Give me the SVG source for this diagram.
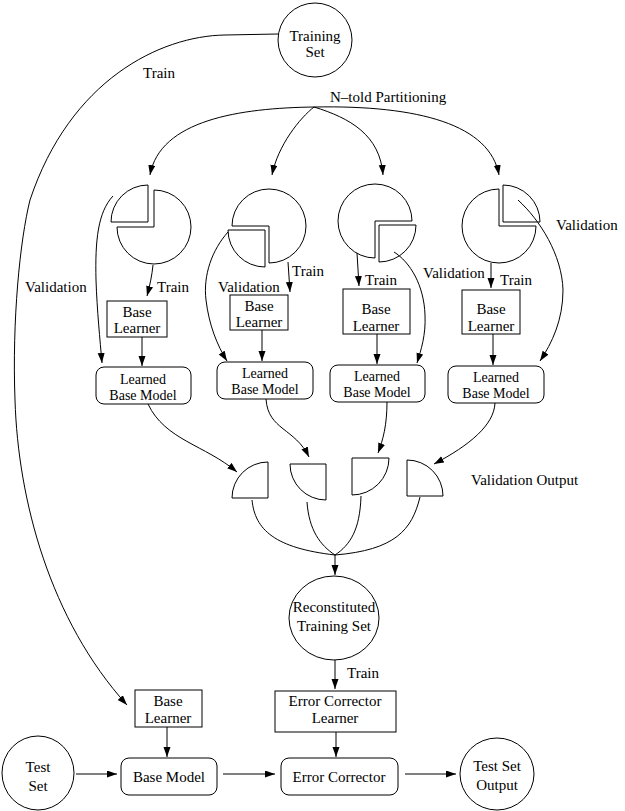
<svg xmlns="http://www.w3.org/2000/svg" width="625" height="811" viewBox="0 0 625 811">
<style>
.s{fill:none;stroke:#000;stroke-width:1}
.n{fill:#fff;stroke:#000;stroke-width:1}
.c{fill:none;stroke:#000;stroke-width:1;marker-end:url(#ah)}
.p{fill:none;stroke:#000;stroke-width:1}
text{font-family:"Liberation Serif","Times New Roman",serif;font-size:15px;fill:#000}
.m{text-anchor:middle}
.t{font-size:14px}
</style>
<defs>
<marker id="ah" markerUnits="userSpaceOnUse" markerWidth="11" markerHeight="8" refX="10" refY="3.5" orient="auto">
<path d="M0,0 L10,3.5 L0,7 z" fill="#000"/>
</marker>
</defs>
<rect width="625" height="811" fill="#fff"/>

<g id="connectors">
<path class="p" d="M278,34 L225,35 C160,36 70,80 30,200 C20,240 12,320 15,400 C18,500 50,620 127,705" marker-end="url(#ah)"/>
<path class="c" d="M314,107 C240,108 160,120 150,175"/>
<path class="c" d="M314,107 C300,118 278,145 272,175"/>
<path class="c" d="M314,107 C350,118 380,135 383,175"/>
<path class="c" d="M314,107 C420,105 490,125 499,175"/>
<path class="c" d="M153,265 C152,275 150,285 147,296"/>
<path class="c" d="M288,262 L290,292"/>
<path class="c" d="M357,253 L359,286"/>
<path class="c" d="M491,263 L491,288"/>
<path class="c" d="M113,196 C98,212 95,240 96,280 C97,310 100,340 102,363"/>
<path class="c" d="M228,232 C212,250 203,275 206,300 C209,325 217,345 227,361"/>
<path class="c" d="M394,252 C410,262 424,285 425,315 C426,335 421,350 417,363"/>
<path class="c" d="M518,200 C540,220 562,255 563,290 C563,320 552,343 540,361"/>
<path class="c" d="M142,337 L142,366"/>
<path class="c" d="M262,330 L262,361"/>
<path class="c" d="M377,334 L377,364"/>
<path class="c" d="M493,334 L493,365"/>
<path class="c" d="M148,404 C165,440 205,445 237,472"/>
<path class="c" d="M266,399 C268,430 295,428 309,457"/>
<path class="c" d="M387,402 C387,425 383,440 378,453"/>
<path class="c" d="M495,403 C494,425 470,445 434,464"/>
<path class="p" d="M252,500 C255,530 275,548 335,555"/>
<path class="p" d="M307,502 C309,530 320,545 335,555"/>
<path class="p" d="M361,496 C360,530 350,545 335,555"/>
<path class="p" d="M420,497 C412,530 395,550 335,555"/>
<path class="c" d="M335,555 L335,575"/>
<path class="c" d="M335,660 L335,689"/>
<path class="c" d="M336,732 L336,757"/>
<path class="c" d="M167,727 L167,757"/>
<path class="c" d="M76,774 L117,774"/>
<path class="c" d="M223,774 L275,774"/>
<path class="c" d="M405,774 L456,774"/>
<text x="143" y="78">Train</text>
<text x="330" y="102">N–told Partitioning</text>
<text x="25" y="292">Validation</text>
<text x="157" y="292">Train</text>
<text x="218" y="292">Validation</text>
<text x="292" y="276">Train</text>
<text x="365" y="285">Train</text>
<text x="423" y="278">Validation</text>
<text x="500" y="285">Train</text>
<text x="556" y="230">Validation</text>
<text x="471" y="485">Validation Output</text>
<text x="347" y="678">Train</text>
</g>

<g id="training-set">
<ellipse class="n" cx="315" cy="40" rx="37" ry="37"/>
<text class="m" x="315" y="41">Training</text>
<text class="m" x="315" y="57">Set</text>
</g>

<g id="partition-1">
<path class="s" d="M154,190 A37,37 0 1 1 117,227 L154,227 Z"/>
<path class="s" d="M148,222 L111,222 A37,37 0 0 1 148,185 Z"/>
</g>
<g id="partition-2">
<path class="s" d="M269,263 A37,37 0 1 0 232,226 L269,226 Z"/>
<path class="s" d="M265,230 L228,230 A37,37 0 0 0 265,267 Z"/>
</g>
<g id="partition-3">
<path class="s" d="M375,221 L412,221 A37,37 0 1 0 375,258 Z"/>
<path class="s" d="M379,225 L416,225 A37,37 0 0 1 379,262 Z"/>
</g>
<g id="partition-4">
<path class="s" d="M499,226 L499,189 A37,37 0 1 0 536,226 Z"/>
<path class="s" d="M503,222 L503,185 A37,37 0 0 1 540,222 Z"/>
</g>

<g id="base-learner-1">
<rect class="n" x="107" y="301" width="60" height="36"/>
<text class="m" x="137" y="317">Base</text>
<text class="m" x="137" y="333">Learner</text>
</g>
<g id="base-learner-2">
<rect class="n" x="230" y="295" width="58" height="35"/>
<text class="m" x="259" y="311">Base</text>
<text class="m" x="259" y="327">Learner</text>
</g>
<g id="base-learner-3">
<rect class="n" x="343" y="289" width="67" height="45"/>
<text class="m" x="376" y="314">Base</text>
<text class="m" x="376" y="331">Learner</text>
</g>
<g id="base-learner-4">
<rect class="n" x="462" y="290" width="58" height="44"/>
<text class="m" x="491" y="314">Base</text>
<text class="m" x="491" y="331">Learner</text>
</g>

<g id="learned-model-1">
<rect class="n" x="96" y="367" width="95" height="37" rx="8"/>
<text class="m t" x="143" y="384">Learned</text>
<text class="m t" x="143" y="400">Base Model</text>
</g>
<g id="learned-model-2">
<rect class="n" x="217" y="362" width="96" height="37" rx="8"/>
<text class="m t" x="265" y="378">Learned</text>
<text class="m t" x="265" y="394">Base Model</text>
</g>
<g id="learned-model-3">
<rect class="n" x="330" y="365" width="95" height="37" rx="8"/>
<text class="m t" x="377" y="381">Learned</text>
<text class="m t" x="377" y="397">Base Model</text>
</g>
<g id="learned-model-4">
<rect class="n" x="448" y="366" width="96" height="37" rx="8"/>
<text class="m t" x="496" y="382">Learned</text>
<text class="m t" x="496" y="398">Base Model</text>
</g>

<g id="validation-output-1"><path class="s" d="M268,498 L232,498 A36,36 0 0 1 268,462 Z"/></g>
<g id="validation-output-2"><path class="s" d="M326,464 L290,464 A36,36 0 0 0 326,500 Z"/></g>
<g id="validation-output-3"><path class="s" d="M352,458 L389,458 A37,37 0 0 1 352,495 Z"/></g>
<g id="validation-output-4"><path class="s" d="M407,496 L407,460 A36,36 0 0 1 443,496 Z"/></g>

<g id="reconstituted-training-set">
<ellipse class="n" cx="334" cy="618" rx="45" ry="42"/>
<text class="m" x="334" y="612">Reconstituted</text>
<text class="m" x="334" y="631">Training Set</text>
</g>

<g id="base-learner-final">
<rect class="n" x="135" y="690" width="67" height="37"/>
<text class="m" x="168" y="706">Base</text>
<text class="m" x="168" y="723">Learner</text>
</g>
<g id="error-corrector-learner">
<rect class="n" x="275" y="691" width="121" height="41"/>
<text class="m" x="335" y="706">Error Corrector</text>
<text class="m" x="335" y="723">Learner</text>
</g>

<g id="test-set">
<ellipse class="n" cx="38" cy="773" rx="36" ry="37"/>
<text class="m" x="38" y="772">Test</text>
<text class="m" x="38" y="791">Set</text>
</g>
<g id="base-model">
<rect class="n" x="121" y="758" width="96" height="37" rx="8"/>
<text class="m" x="169" y="782">Base Model</text>
</g>
<g id="error-corrector">
<rect class="n" x="281" y="758" width="117" height="37" rx="8"/>
<text class="m" x="339" y="782">Error Corrector</text>
</g>
<g id="test-set-output">
<ellipse class="n" cx="497" cy="774" rx="37" ry="36"/>
<text class="m" x="497" y="771">Test Set</text>
<text class="m" x="497" y="790">Output</text>
</g>
</svg>
